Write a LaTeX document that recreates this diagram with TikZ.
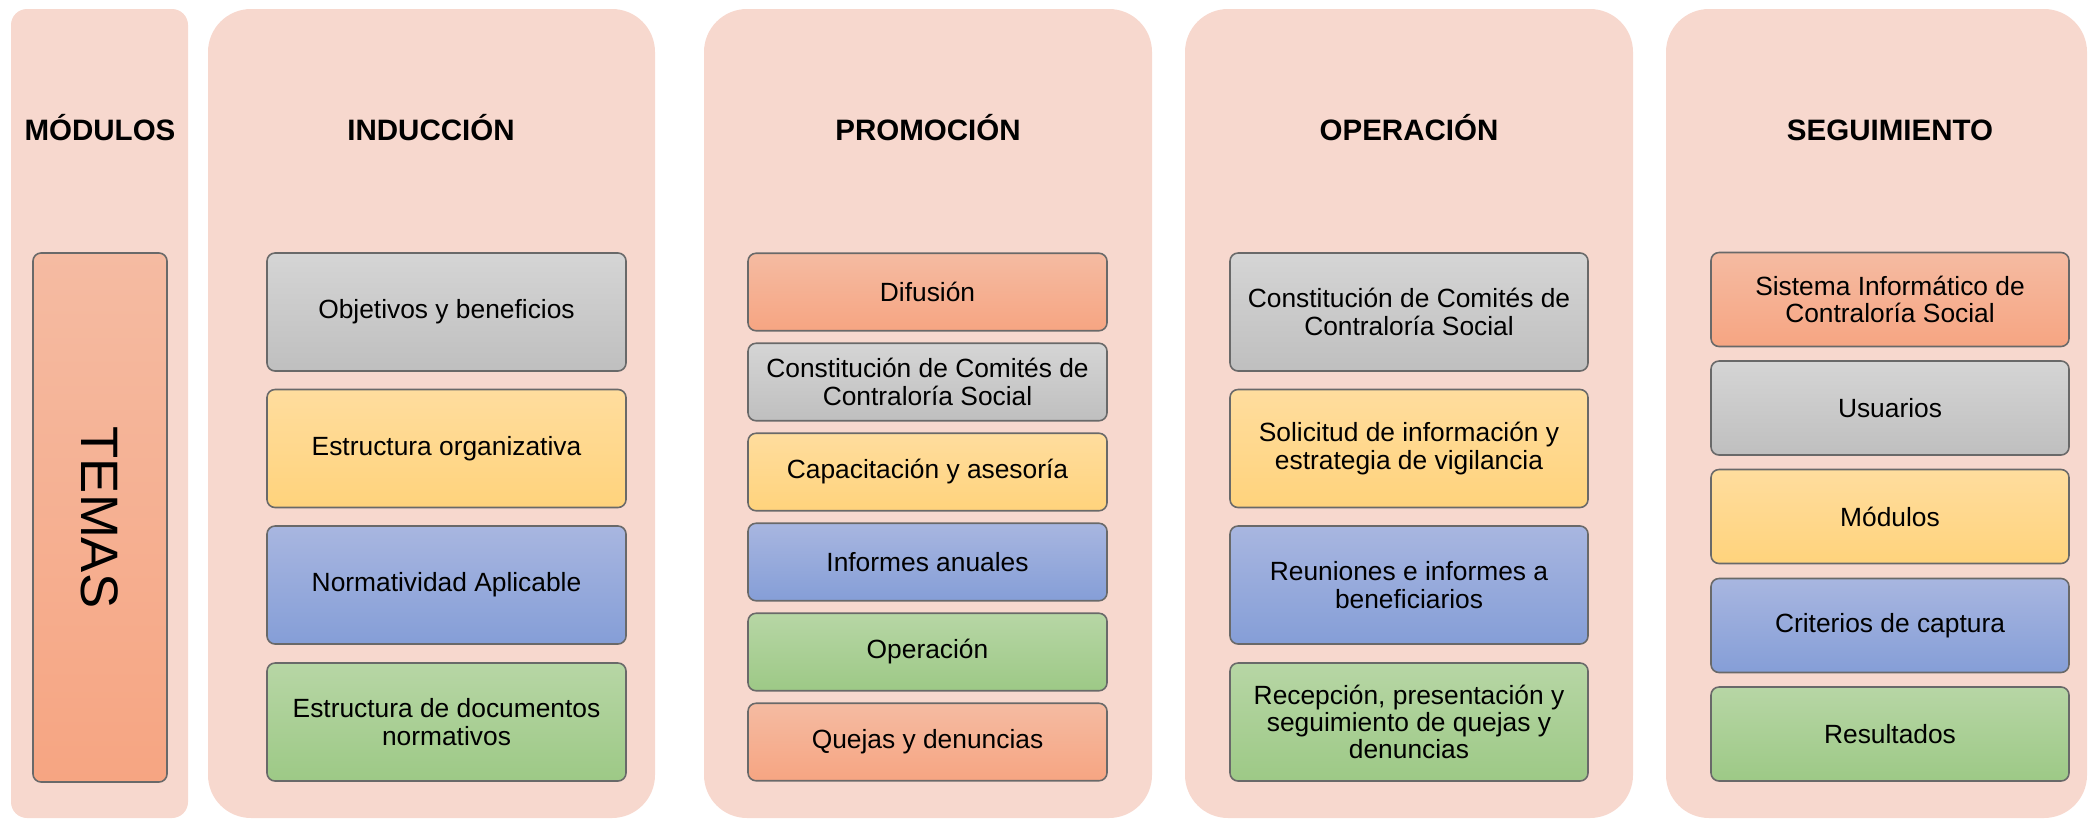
\documentclass[tikz,border=0pt]{standalone}
\usepackage{fontspec}
\setmainfont{Liberation Sans}
\usetikzlibrary{positioning}

% Colours of the panels and the boxes (A = top, B = bottom of the shading)
\definecolor{panel}{RGB}{247,216,206}
\definecolor{borde}{RGB}{105,105,105}
\definecolor{salA}{RGB}{245,187,162}
\definecolor{salB}{RGB}{246,165,130}
\definecolor{grisA}{RGB}{213,213,213}
\definecolor{grisB}{RGB}{191,191,191}
\definecolor{amaA}{RGB}{255,221,158}
\definecolor{amaB}{RGB}{255,211,124}
\definecolor{azulA}{RGB}{168,182,224}
\definecolor{azulB}{RGB}{133,158,215}
\definecolor{verdeA}{RGB}{183,214,165}
\definecolor{verdeB}{RGB}{157,201,134}

\newcommand\cuerpo{\fontsize{15}{15.6}\selectfont}
\newcommand\titulo{\fontsize{16.8}{20}\selectfont\bfseries}

\tikzset{
    tema/.style = {draw = borde, line width = 0.9pt, rounded corners = 0.16cm,
                   inner sep = 0pt, align = center, font = \cuerpo,
                   top color = #1A, bottom color = #1B},
    cabeza/.style = {anchor = base, font = \titulo},
}

\begin{document}
\begin{tikzpicture}[x = 0.02cm, y = -0.02cm]

    \def\px{0.02cm}         % one pixel of the reference
    \def\rP{0.86cm}         % radius of the big panels
    \def\arriba{9}          % top of the panels
    \def\abajo{818}         % bottom of the panels
    \def\base{140}          % baseline of the headings

    % Determines the boundries
    \useasboundingbox (0,0) rectangle (2095,818);

    % The panels
    \fill[panel, rounded corners = 0.32cm] (11,\arriba) rectangle (188,\abajo);
    \foreach \L/\R in {208/655, 704/1152, 1185/1633, 1666/2087}{
        \fill[panel, rounded corners = \rP] (\L,\arriba) rectangle (\R,\abajo);
    }

    % Headings
    \node[cabeza] (hMod) at (100,\base)  {MÓDULOS};
    \node[cabeza] (hInd) at (431,\base)  {INDUCCIÓN};
    \node[cabeza] (hPro) at (928,\base)  {PROMOCIÓN};
    \node[cabeza] (hOpe) at (1409,\base) {OPERACIÓN};
    \node[cabeza] (hSeg) at (1890,\base) {SEGUIMIENTO};

    % TEMAS
    \node[tema = sal, minimum width = 134*\px, minimum height = 529*\px]
        (temas) at (100,517.5) {};
    \node[rotate = -90, font = \fontsize{30}{30}\selectfont] (temasTxt) at (temas.center) {TEMAS};

    % Induccion
    \foreach \Y/\C/\T [count = \i] in {
        312/gris/{Objetivos y beneficios},
        448.5/ama/{Estructura organizativa},
        585/azul/{Normatividad Aplicable},
        722/verde/{Estructura de documentos\\normativos}}{
        \node[tema = \C, minimum width = 359*\px, minimum height = 118*\px]
            (ind\i) at (446.5,\Y) {\T};
    }

    % Promocion
    \foreach \Y/\C/\T [count = \i] in {
        292/sal/{Difusión},
        382/gris/{Constitución de Comités de\\Contraloría Social},
        472/ama/{Capacitación y asesoría},
        562/azul/{Informes anuales},
        652/verde/{Operación},
        742/sal/{Quejas y denuncias}}{
        \node[tema = \C, minimum width = 359*\px, minimum height = 77.5*\px]
            (pro\i) at (927.5,\Y) {\T};
    }

    % Operacion
    \foreach \Y/\C/\T [count = \i] in {
        312/gris/{Constitución de Comités de\\Contraloría Social},
        448.5/ama/{Solicitud de información y\\estrategia de vigilancia},
        585/azul/{Reuniones e informes a\\beneficiarios},
        722/verde/{Recepción, presentación y\\seguimiento de quejas y\\denuncias}}{
        \node[tema = \C, minimum width = 358*\px, minimum height = 118*\px]
            (ope\i) at (1409,\Y) {\T};
    }

    % Seguimiento
    \foreach \Y/\C/\T [count = \i] in {
        299.5/sal/{Sistema Informático de\\Contraloría Social},
        408/gris/{Usuarios},
        516.5/ama/{Módulos},
        625.5/azul/{Criterios de captura},
        734/verde/{Resultados}}{
        \node[tema = \C, minimum width = 358*\px, minimum height = 94*\px]
            (seg\i) at (1890,\Y) {\T};
    }

\end{tikzpicture}
\end{document}
